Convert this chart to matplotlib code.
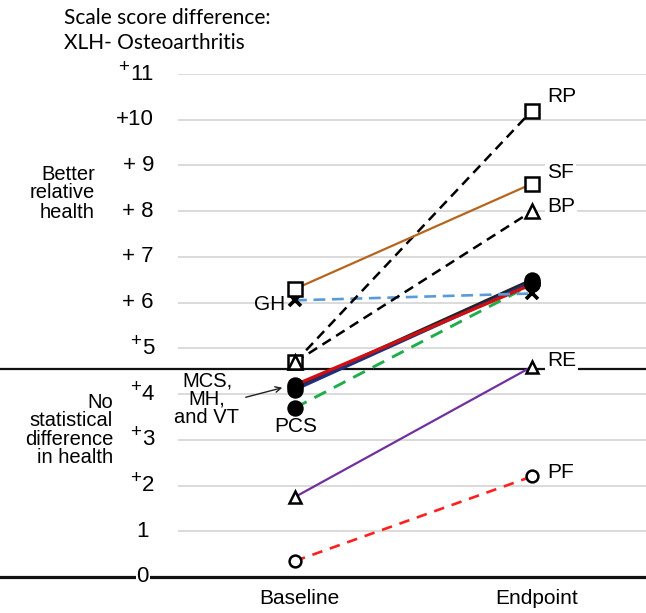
import numpy as np
import matplotlib
matplotlib.use('Agg')
import matplotlib.pyplot as plt

# SF-36 scale score differences, XLH minus osteoarthritis
timepoints = ['Baseline', 'Endpoint']
scales = ['PF', 'RE', 'PCS', 'MCS', 'VT', 'MH', 'GH', 'RP', 'BP', 'SF']
baseline = [0.35, 1.75, 3.7, 4.15, 4.1, 4.2, 6.05, 4.7, 4.7, 6.3]
endpoint = [2.2, 4.6, 6.4, 6.5, 6.45, 6.4, 6.2, 10.2, 8.0, 8.6]
threshold = 4.55
ytick_vals = [0, 1, 2, 3, 4, 5, 6, 7, 8, 9, 10, 11]
ytick_text = ['0', '1', '2', '3', '4', '5', '+ 6', '+ 7', '+ 8', '+ 9', '+10', '11']
ytick_sup = [False, False, True, True, True, True, False, False, False, False, False, True]

styles = {
    'PF': dict(color='#ff1f1f', ls=(0, (4, 3)), lw=1.9, marker='o', mfc='white', ms=8.5),
    'RE': dict(color='#7030a0', ls='-', lw=1.6, marker='^', mfc='white', ms=9),
    'PCS': dict(color='#1fae4b', ls=(0, (4.5, 3)), lw=2.1, marker='o', mfc='black', ms=10),
    'MCS': dict(color='#222222', ls='-', lw=2.2, marker='o', mfc='black', ms=10),
    'VT': dict(color='#1f2f7a', ls='-', lw=2.4, marker='o', mfc='black', ms=10),
    'MH': dict(color='#d01010', ls='-', lw=2.4, marker='o', mfc='black', ms=10),
    'GH': dict(color='#5b9bd5', ls=(0, (4.5, 2.5)), lw=1.9, marker='x', mfc='black', ms=8),
    'RP': dict(color='black', ls=(0, (4, 2.5)), lw=1.8, marker='s', mfc='white', ms=9.5),
    'BP': dict(color='black', ls=(0, (4, 2.5)), lw=1.8, marker='^', mfc='white', ms=10),
    'SF': dict(color='#b5651d', ls='-', lw=1.6, marker='s', mfc='white', ms=9.5),
}

W, H = 646, 613
x0_px, x1_px = 295, 532      # pixel x of Baseline / Endpoint
y0_px, y11_px = 577, 74      # pixel y of 0 / 11
left_px = 178


def px(x, y):
    """pixel position -> data coordinates"""
    return ((x - x0_px) / (x1_px - x0_px), (y0_px - y) / ((y0_px - y11_px) / 11))


fig = plt.figure(figsize=(W / 100, H / 100), dpi=100)
ax = fig.add_axes([left_px / W, (H - y0_px) / H, (W - left_px) / W, (y0_px - y11_px) / H])
xl, _ = px(left_px, 0)
xr, _ = px(W, 0)
ax.set_xlim(xl, xr)
ax.set_ylim(0, 11)
ax.axis('off')

for v in ytick_vals[1:]:
    ax.axhline(v, color='#d4d4d4', lw=1.2, zorder=0)

# full-width reference lines
fx0, _ = px(0, 0)
ax.plot([fx0, xr], [0, 0], color='#111111', lw=2.3, clip_on=False, zorder=1)
ax.plot([fx0, xr], [threshold, threshold], color='#111111', lw=1.6, clip_on=False, zorder=1)

xs = np.arange(len(timepoints))
for i, name in enumerate(scales):
    st = styles[name]
    mew = 2.6 if st['marker'] == 'x' else 1.8
    ax.plot(xs, [baseline[i], endpoint[i]], color=st['color'], ls=st['ls'], lw=st['lw'],
            zorder=3 + i, clip_on=False)
    ax.plot(xs, [baseline[i], endpoint[i]], ls='none', marker=st['marker'], ms=st['ms'],
            mfc=st['mfc'], mec='black', mew=mew, zorder=20 + i, clip_on=False)

num_font = ['Liberation Sans', 'DejaVu Sans']
digit_w = 12.0  # px width of one digit at 16pt

# y tick labels
unit = (y0_px - y11_px) / 11
for v, t, sup in zip(ytick_vals, ytick_text, ytick_sup):
    right = 149 if v < 2 else 154
    tx, _ = px(right, 0)
    ax.text(tx, v, t, ha='right', va='center', fontsize=16, family=num_font,
            bbox=dict(fc='white', ec='none', pad=0.5) if v == 0 else None, zorder=30,
            clip_on=False)
    if sup:
        sx, _ = px(right - len(t) * digit_w - 1, 0)
        ax.text(sx, v + 7 / unit, '+', ha='right', va='center', fontsize=13.5,
                family=num_font, clip_on=False)

# category labels
for xi, lab in zip(xs, timepoints):
    _, ty = px(0, 599)
    ax.text(xi + 0.02, ty, lab, ha='center', va='center', fontsize=15, family=num_font,
            clip_on=False)

# scale labels at endpoint
end_labels = {'RP': 97, 'SF': 173, 'BP': 207, 'RE': 361, 'PF': 472}
for lab, yp in end_labels.items():
    tx, ty = px(547, yp)
    ax.text(tx, ty, lab, ha='left', va='center', fontsize=15, family=num_font,
            bbox=dict(fc='white', ec='none', pad=1.5), zorder=30)

tx, ty = px(285, 304)
ax.text(tx, ty, 'GH', ha='right', va='center', fontsize=15, family=num_font, zorder=30)
tx, ty = px(296, 427)
ax.text(tx, ty, 'PCS', ha='center', va='center', fontsize=15, family=num_font, zorder=30)
tx, ty = px(207, 399)
ax.text(tx, ty, 'MCS,\nMH,\nand VT', ha='center', va='center', fontsize=14.5,
        family=num_font, linespacing=0.95, zorder=30, clip_on=False)
ax.annotate('', xy=px(285, 387), xytext=px(243, 398),
            arrowprops=dict(arrowstyle='->', color='#222222', lw=1.0), zorder=30)

# side notes
tx, ty = px(95, 193)
ax.text(tx, ty, 'Better\nrelative\nhealth', ha='right', va='center', fontsize=14.5,
        family=num_font, linespacing=1.0, multialignment='right', clip_on=False)
tx, ty = px(113, 430)
ax.text(tx, ty, 'No\nstatistical\ndifference\nin health', ha='right', va='center',
        fontsize=14.5, family=num_font, linespacing=0.95, multialignment='right',
        clip_on=False)

# title
fig.text(64 / W, 1 - 18 / H, 'Scale score difference:', ha='left', va='center',
         fontsize=15, family=['Lato', 'DejaVu Sans'])
fig.text(64 / W, 1 - 43 / H, 'XLH- Osteoarthritis', ha='left', va='center',
         fontsize=15, family=['Lato', 'DejaVu Sans'])

fig.savefig('out.png', dpi=100, facecolor='white')
